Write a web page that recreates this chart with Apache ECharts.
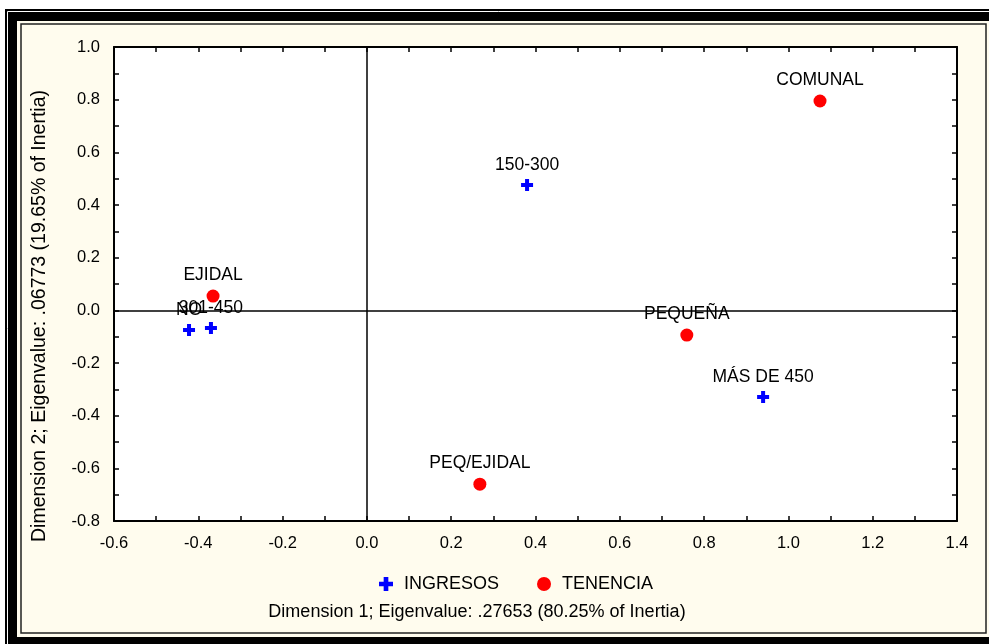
<!DOCTYPE html>
<html><head><meta charset="utf-8">
<script src="https://cdn.jsdelivr.net/npm/echarts@6/dist/echarts.min.js"></script>
<style>html,body{margin:0;padding:0;background:#fff}#c{width:989px;height:644px}</style>
</head><body><div id="c"></div>
<script>
const ingresosNames = ['150-300', 'MÁS DE 450', 'NO', '301-450'];
const ingresosX = [0.380, 0.940, -0.422, -0.370];
const ingresosY = [0.476, -0.329, -0.075, -0.067];
const tenenciaNames = ['COMUNAL', 'EJIDAL', 'PEQUEÑA', 'PEQ/EJIDAL'];
const tenenciaX = [1.075, -0.365, 0.759, 0.268];
const tenenciaY = [0.795, 0.054, -0.094, -0.660];
const xTitle = 'Dimension 1; Eigenvalue: .27653 (80.25% of Inertia)';
const yTitle = 'Dimension 2; Eigenvalue: .06773 (19.65% of Inertia)';

const FONT = '"Liberation Sans", Arial, sans-serif';
const PLUS = 'path://M4,0H8V4H12V8H8V12H4V8H0V4H4Z';
const pts = (names, xs, ys) => names.map((n, i) => ({name: n, value: [xs[i], ys[i]]}));

const chart = echarts.init(document.getElementById('c'));
const axisCommon = {
  axisLine: {show: true, onZero: false, lineStyle: {color: '#000', width: 2}},
  axisTick: {show: true, inside: true, length: 5, lineStyle: {color: '#000', width: 1.5}},
  minorTick: {show: true, splitNumber: 2, length: 5, lineStyle: {color: '#000', width: 1.5}},
  splitLine: {show: false}
};
chart.setOption({
  backgroundColor: '#fff',
  animation: false,
  graphic: [
    {type: 'rect', shape: {x: 5, y: 9, width: 990, height: 640}, style: {fill: '#000'}, z: -10, silent: true},
    {type: 'rect', shape: {x: 7.5, y: 11.5, width: 990, height: 640}, style: {fill: null, stroke: '#fff', lineWidth: 1}, z: -9, silent: true},
    {type: 'rect', shape: {x: 17, y: 21, width: 980, height: 616}, style: {fill: '#FFFCEE'}, z: -8, silent: true},
    {type: 'rect', shape: {x: 21, y: 24, width: 965, height: 609}, style: {fill: null, stroke: '#222', lineWidth: 1.5}, z: -7, silent: true},
    {type: 'rect', shape: {x: 114, y: 47, width: 843, height: 474}, style: {fill: '#fff'}, z: -6, silent: true},
    {type: 'text', x: 477, y: 612, style: {text: xTitle, font: '18px ' + FONT, fill: '#000', align: 'center', verticalAlign: 'middle'}},
    {type: 'text', x: 40, y: 316, rotation: Math.PI / 2, style: {text: yTitle, font: '19.5px ' + FONT, fill: '#000', align: 'center', verticalAlign: 'middle'}}
  ],
  grid: {left: 114, top: 47, right: 32, bottom: 123},
  legend: {
    top: 570, left: 374, itemGap: 38, itemWidth: 14, itemHeight: 14,
    textStyle: {fontFamily: FONT, fontSize: 18, color: '#000', padding: [0, 0, 0, 6]},
    data: [{name: 'INGRESOS', icon: PLUS, itemStyle: {color: '#0000FF'}}, {name: 'TENENCIA', icon: 'circle', itemStyle: {color: '#FF0000'}}]
  },
  xAxis: [
    Object.assign({type: 'value', min: -0.6, max: 1.4, interval: 0.2,
      axisLabel: {fontFamily: FONT, fontSize: 16.5, color: '#000', margin: 14, formatter: v => v.toFixed(1)}}, axisCommon),
    Object.assign({type: 'value', position: 'top', min: -0.6, max: 1.4, interval: 0.2, axisLabel: {show: false}}, axisCommon)
  ],
  yAxis: [
    Object.assign({type: 'value', min: -0.8, max: 1.0, interval: 0.2,
      axisLabel: {fontFamily: FONT, fontSize: 16.5, color: '#000', margin: 14, formatter: v => v.toFixed(1)}}, axisCommon),
    Object.assign({type: 'value', position: 'right', min: -0.8, max: 1.0, interval: 0.2, axisLabel: {show: false}}, axisCommon)
  ],
  series: [
    {
      name: 'INGRESOS', type: 'scatter', symbol: PLUS, symbolSize: 12,
      itemStyle: {color: '#0000FF', opacity: 1},
      label: {show: true, position: 'top', distance: 5, formatter: '{b}', fontFamily: FONT, fontSize: 17.5, color: '#000'},
      data: pts(ingresosNames, ingresosX, ingresosY),
      markLine: {
        silent: true, symbol: 'none', animation: false,
        lineStyle: {color: '#000', width: 1.5, type: 'solid'},
        label: {show: false},
        data: [{xAxis: 0}, {yAxis: 0}]
      },
      z: 5
    },
    {
      name: 'TENENCIA', type: 'scatter', symbol: 'circle', symbolSize: 13,
      itemStyle: {color: '#FF0000', opacity: 1},
      label: {show: true, position: 'top', distance: 5, formatter: '{b}', fontFamily: FONT, fontSize: 17.5, color: '#000'},
      data: pts(tenenciaNames, tenenciaX, tenenciaY),
      z: 5
    }
  ]
});
</script></body></html>
